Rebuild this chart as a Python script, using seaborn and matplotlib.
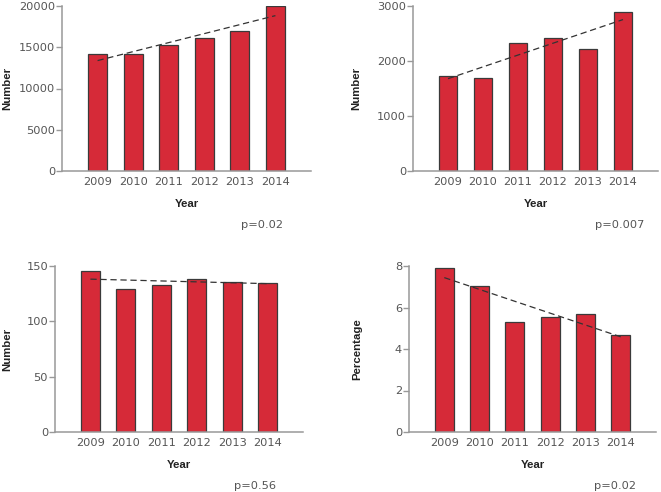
import numpy as np
import pandas as pd
import matplotlib
matplotlib.use("Agg")
import matplotlib.pyplot as plt
import seaborn as sns

years = ["2009", "2010", "2011", "2012", "2013", "2014"]

panel1_values = [14150, 14200, 15250, 16150, 16950, 19950]
panel2_values = [1720, 1700, 2335, 2425, 2220, 2895]
panel3_values = [145.5, 129.5, 132.5, 138.5, 135.5, 135.0]
panel4_values = [7.9, 7.02, 5.3, 5.52, 5.67, 4.67]

ylabels = ["Number", "Number", "Number", "Percentage"]
yticks = [[0, 5000, 10000, 15000, 20000],
          [0, 1000, 2000, 3000],
          [0, 50, 100, 150],
          [0, 2, 4, 6, 8]]
pvalues = ["p=0.02", "p=0.007", "p=0.56", "p=0.02"]

BAR_COLOR = "#D62A38"
GRAY = "#999999"
TEXT = "#555555"

sns.set_style("white")
plt.rcParams['font.family'] = ['DejaVu Sans']

fig = plt.figure(figsize=(6.61, 4.92), dpi=100)
W, H = 661, 492

# axes boxes in pixels: left, top, right, bottom
boxes = [(62, 6, 311, 171), (413, 6, 658, 171),
         (55, 266, 303, 432), (409, 266, 656, 432)]
ylabel_x = [-0.20, -0.21, -0.173, -0.19]
p_x = [0.803, 0.844, 0.806, 0.834]

all_values = [panel1_values, panel2_values, panel3_values, panel4_values]

for i, vals in enumerate(all_values):
    l, t, r, b = boxes[i]
    ax = fig.add_axes([l / W, 1 - b / H, (r - l) / W, (b - t) / H])
    df = pd.DataFrame({"Year": years, "value": vals, "idx": np.arange(len(years))})

    sns.barplot(data=df, x="Year", y="value", color=BAR_COLOR, width=0.54,
                edgecolor="#3a3a3a", linewidth=0.9, saturation=1, ax=ax)
    # linear trend
    sns.regplot(data=df, x="idx", y="value", scatter=False, ci=None, ax=ax,
                line_kws=dict(color="#333333", linestyle=(0, (5, 3)), linewidth=0.9))

    ax.set_xlim(-1, 6)
    ax.set_ylim(0, yticks[i][-1])
    ax.set_yticks(yticks[i])
    ax.set_xticks(range(len(years)))
    ax.set_xticklabels(years)

    sns.despine(ax=ax)
    for s in ["left", "bottom"]:
        ax.spines[s].set_color(GRAY)
        ax.spines[s].set_linewidth(1.1)
    ax.tick_params(axis="y", direction="out", length=4, width=1, color=GRAY,
                   labelsize=8.2, labelcolor=TEXT, pad=1, left=True)
    ax.tick_params(axis="x", length=0, labelsize=8.2, labelcolor=TEXT, pad=4)

    ax.set_ylabel(ylabels[i], fontsize=8.2, fontweight="bold", color="#222222",
                  family="Liberation Sans")
    ax.yaxis.set_label_coords(ylabel_x[i], 0.5)
    ax.set_xlabel("Year", fontsize=8.2, fontweight="bold", color="#222222",
                  family="Liberation Sans")
    ax.xaxis.set_label_coords(0.5, -0.17)

    ax.text(p_x[i], -0.325, pvalues[i], transform=ax.transAxes, ha="center",
            va="center", fontsize=8.2, color=TEXT)

fig.savefig("out.png", dpi=100)
